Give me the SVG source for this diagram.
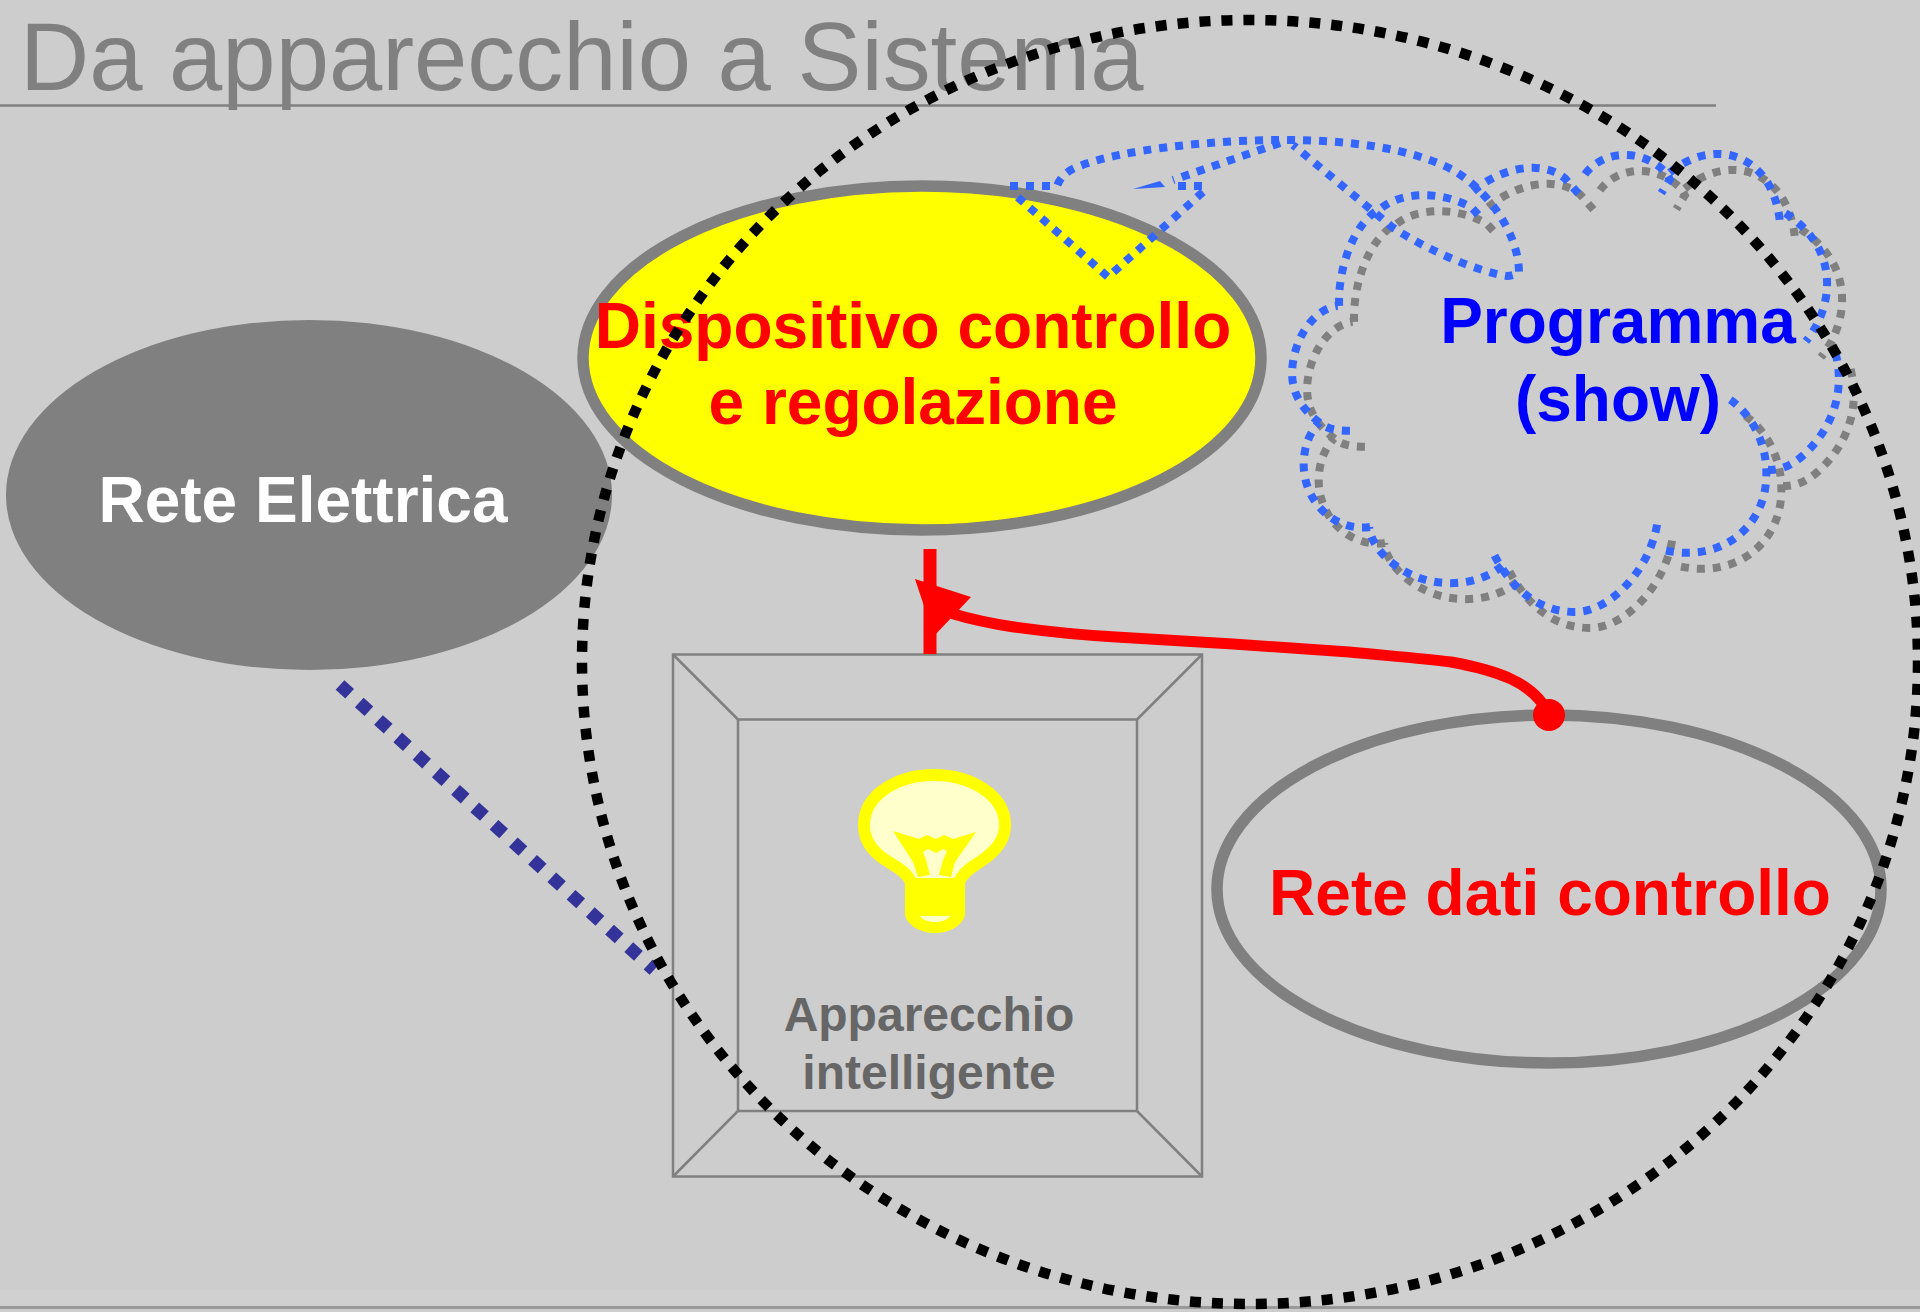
<svg xmlns="http://www.w3.org/2000/svg" width="1920" height="1312" viewBox="0 0 1920 1312">
<style>
text{font-family:"Liberation Sans",Arial,sans-serif;text-anchor:middle}
.b{font-weight:bold;font-size:64px}
.ring{stroke:#808080;stroke-width:11.500}
.cl{fill:none;stroke-width:8;stroke-dasharray:8 8;vector-effect:non-scaling-stroke}
.box{fill:none;stroke:#808080;stroke-width:2.5}
</style>
<defs>
<g id="cloud" transform="translate(1269 127) scale(.3854 .3375)">
<path class="cl" d="M182 530C178 420 220 280 292 240C340 195 440 185 525 238L555 275"/>
<path class="cl" d="M530 190C590 130 700 90 768 152L805 200"/>
<path class="cl" d="M820 140C860 75 960 55 1030 135L1040 155L1018 196"/>
<path class="cl" d="M1040 135C1110 70 1210 50 1280 143C1300 170 1320 220 1325 275"/>
<path class="cl" d="M1340 255C1400 300 1450 370 1448 470C1447 530 1425 590 1393 635"/>
<path class="cl" d="M1470 670C1495 780 1465 890 1387 972C1355 1005 1320 1020 1290 1015"/>
<path class="cl" d="M1197 808C1260 860 1295 950 1290 1043C1285 1180 1180 1290 1030 1255"/>
<path class="cl" d="M1007 1178C985 1320 880 1440 790 1437C700 1435 630 1370 583 1265"/>
<path class="cl" d="M605 1300C540 1365 410 1375 320 1292C285 1260 262 1220 260 1185"/>
<path class="cl" d="M262 1185C170 1200 90 1110 90 1000C90 950 105 905 130 875"/>
<path class="cl" d="M210 900C175 900 150 895 130 875C85 835 60 790 60 730C60 640 110 540 178 530"/>
</g>
</defs>
<rect width="1920" height="1312" fill="#cdcdcd"/>
<rect y="1290" width="1920" height="15" fill="#d0d0d0"/>
<rect y="1306" width="1920" height="3" fill="#999999"/>
<g id="title">
<text x="20" y="90" font-size="95.8" fill="#808080" style="text-anchor:start">Da apparecchio a Sistema</text>
<line x1="0" y1="105.5" x2="1716" y2="105.5" stroke="#808080" stroke-width="2.5"/>
</g>
<g id="rete-elettrica">
<ellipse cx="309" cy="495" rx="303" ry="175" fill="#808080"/>
<text class="b" x="303" y="522" fill="#fff">Rete Elettrica</text>
</g>
<g id="dispositivo">
<ellipse class="ring" cx="922" cy="358" rx="339" ry="172" fill="#ffff00"/>
<text class="b" x="913" y="348" fill="#f00">Dispositivo controllo</text>
<text class="b" x="913" y="424" fill="#f00">e regolazione</text>
</g>
<g id="programma">
<use href="#cloud" stroke="#808080" transform="translate(15 16)"/>
<use href="#cloud" stroke="#3366ff"/>
<path class="cl" stroke="#3366ff" d="M1010 186H1057Q1062 172 1080 166C1120 150 1210 140 1283 140C1350 140 1410 148 1453 170C1490 192 1519 235 1519 273Q1512 276 1507 276C1480 272 1430 252 1392 227L1293 145"/>
<path class="cl" stroke="#3366ff" d="M1280 143L1173 180"/>
<path class="cl" stroke="#3366ff" d="M1202 186H1170"/>
<path class="cl" stroke="#3366ff" d="M1203 192L1108 277L1013 193"/>
<polygon points="1133,189 1160,181 1165,187" fill="#3366ff"/>
<text class="b" x="1618" y="343" fill="#00f">Programma</text>
<text class="b" x="1618" y="421" fill="#00f">(show)</text>
</g>
<g id="rete-dati">
<ellipse class="ring" cx="1549" cy="889" rx="332" ry="174" fill="none"/>
<text class="b" x="1550" y="915" fill="#f00">Rete dati controllo</text>
</g>
<g id="apparecchio">
<rect class="box" x="673" y="654.5" width="529" height="522"/>
<rect class="box" x="738" y="719.5" width="399" height="391.500"/>
<path class="box" d="M673 654.500L738 719.500M1202 654.500L1137 719.500M673 1176.500L738 1111M1202 1176.500L1137 1111"/>
<path d="M912 884C905 868 892 866 880 856C870 848 864 838 864 825C864 795 897 775 934 775C971 775 1005 795 1005 825C1005 838 998 848 988 856C976 866 965 868 958 884Z" fill="#ffffcc" stroke="#ffff00" stroke-width="12"/>
<path d="M905 880H965V915C963 925 950 933 935 933C920 933 907 925 905 915Z" fill="#ffff00"/>
<path d="M920 916H950C945 924 925 924 920 916Z" fill="#ffffcc"/>
<polygon fill="#ffff00" points="893,831 919,839 927,835 936,839 944,835 953,839 976,832 955,862 951,877 939,875 943,860 947,851 943,849 936,853 928,849 923,852 926,860 930,875 918,877 913,862"/>
<text x="929" y="1031" font-size="48" font-weight="bold" fill="#666">Apparecchio</text>
<text x="929" y="1089" font-size="48" font-weight="bold" fill="#666">intelligente</text>
</g>
<g id="connectors">
<line x1="930" y1="549" x2="930" y2="654" stroke="#f00" stroke-width="13"/>
<polygon points="915,579 971,597 934,636" fill="#f00"/>
<path d="M950 613Q980 622 1014 627C1050 632 1080 635 1116 637L1233 644L1349 652C1390 656 1420 658 1451 662C1495 670 1535 682 1549 715" fill="none" stroke="#f00" stroke-width="11"/>
<ellipse cx="1549" cy="715" rx="16" ry="16" fill="#f00"/>
<line x1="340" y1="685" x2="654" y2="970" stroke="#333399" stroke-width="13" stroke-dasharray="13 13"/>
<ellipse cx="1250" cy="662" rx="668" ry="642" fill="none" stroke="#000" stroke-width="10.500" stroke-dasharray="11 11"/>
</g>
</svg>
